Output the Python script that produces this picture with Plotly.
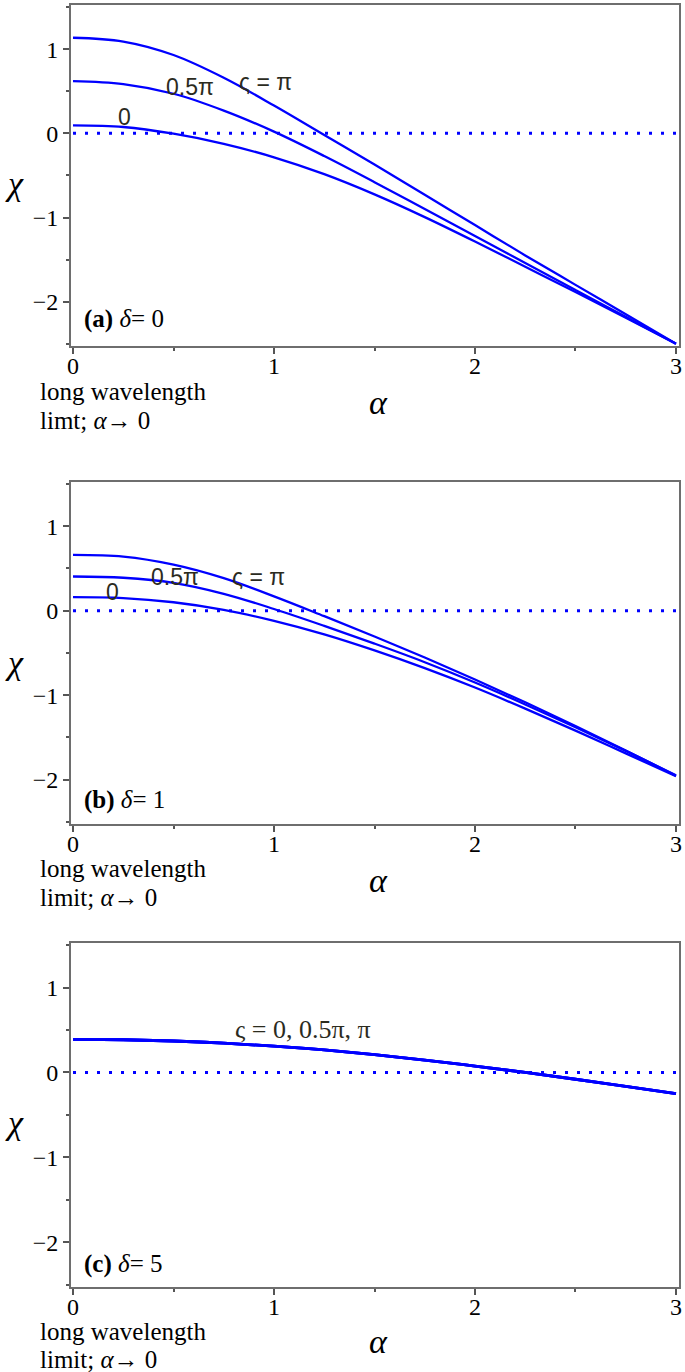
import plotly.graph_objects as go

# ---------------- data ----------------
alpha = [0.0, 0.25, 0.5, 0.75, 1.0, 1.25, 1.5, 1.75, 2.0, 2.25, 2.5, 2.75, 3.0]

# panel (a) delta = 0
chi_a_0    = [0.095, 0.075, -0.005, -0.125, -0.285, -0.485, -0.725, -0.995, -1.285, -1.585, -1.885, -2.19, -2.50]
chi_a_half = [0.62, 0.585, 0.47, 0.27, 0.02, -0.27, -0.58, -0.90, -1.22, -1.54, -1.86, -2.18, -2.50]
chi_a_pi   = [1.135, 1.09, 0.93, 0.66, 0.33, -0.02, -0.37, -0.73, -1.09, -1.45, -1.80, -2.15, -2.50]

# panel (b) delta = 1
chi_b_0    = [0.16, 0.15, 0.10, 0.01, -0.12, -0.28, -0.47, -0.68, -0.91, -1.16, -1.42, -1.69, -1.96]
chi_b_half = [0.405, 0.39, 0.33, 0.20, 0.02, -0.18, -0.39, -0.61, -0.85, -1.11, -1.38, -1.66, -1.95]
chi_b_pi   = [0.66, 0.64, 0.545, 0.385, 0.17, -0.065, -0.305, -0.555, -0.815, -1.085, -1.365, -1.655, -1.955]

# panel (c) delta = 5 (all three curves coincide)
chi_c = [0.39, 0.385, 0.37, 0.345, 0.31, 0.265, 0.21, 0.145, 0.075, 0.0, -0.08, -0.165, -0.25]

zero_x = [0.0, 3.0]
zero_y = [0.0, 0.0]

x_ticks = [0, 1, 2, 3]
y_ticks = [-2, -1, 0, 1]

# ---------------- layout helpers ----------------
W, H = 685, 1372
ML, MR = 71, 6
PW = W - ML - MR


def py(p):
    return 1 - p / H


def px(p):
    return (p - ML) / PW


panels = [(5, 346), (482, 824), (943, 1287)]  # top, bottom in pixels

BLUE = "rgb(0,0,255)"
SERIF = "Liberation Serif"
SANS = "Liberation Sans"
LBL = "#2b2b1e"

fig = go.Figure()

series = [
    [chi_a_0, chi_a_half, chi_a_pi],
    [chi_b_0, chi_b_half, chi_b_pi],
    [chi_c, chi_c, chi_c],
]

for i, curves in enumerate(series):
    xa = "x" if i == 0 else f"x{i+1}"
    ya = "y" if i == 0 else f"y{i+1}"
    fig.add_trace(go.Scatter(x=zero_x, y=zero_y, mode="lines", xaxis=xa, yaxis=ya,
                             line=dict(color=BLUE, width=3, dash="3px,9px"),
                             showlegend=False, hoverinfo="skip"))
    for c in curves:
        fig.add_trace(go.Scatter(x=alpha, y=c, mode="lines", xaxis=xa, yaxis=ya,
                                 line=dict(color=BLUE, width=2.3 if i < 2 else 2.8,
                                           shape="spline", smoothing=1.0),
                                 showlegend=False))

axis_common = dict(showline=True, mirror=True, linecolor="#6e6e6e", linewidth=2,
                   showgrid=False, zeroline=False, ticks="outside", ticklen=6,
                   tickwidth=1.5, tickcolor="#555555",
                   tickfont=dict(family=SERIF, size=24, color="black"))

layout = dict(width=W, height=H, margin=dict(l=ML, r=MR, t=0, b=0),
              plot_bgcolor="white", paper_bgcolor="white", showlegend=False)

for i, (top, bot) in enumerate(panels):
    xk = "xaxis" if i == 0 else f"xaxis{i+1}"
    yk = "yaxis" if i == 0 else f"yaxis{i+1}"
    anchor_x = "y" if i == 0 else f"y{i+1}"
    anchor_y = "x" if i == 0 else f"x{i+1}"
    layout[xk] = dict(axis_common, domain=[0, 1], anchor=anchor_x, range=[-0.01, 3.015],
                      tickvals=x_ticks, ticktext=[str(v) for v in x_ticks],
                      ticklabelstandoff=-9,
                      minor=dict(dtick=0.5, tick0=0, ticks="outside", ticklen=3,
                                 tickcolor="#555555", tickwidth=1.5))
    layout[yk] = dict(axis_common, domain=[py(bot), py(top)], anchor=anchor_y,
                      range=[-2.526, 1.524], tickvals=y_ticks,
                      ticktext=["\u22122", "\u22121", "0", "1"],
                      minor=dict(dtick=0.5, tick0=0, ticks="outside", ticklen=3,
                                 tickcolor="#555555", tickwidth=1.5))

fig.update_layout(**layout)

ann = []


def add(text, x, y, size, family=SERIF, xanchor="center", color="black"):
    ann.append(dict(text=text, x=px(x), y=py(y), xref="paper", yref="paper",
                    xanchor=xanchor, yanchor="middle", showarrow=False,
                    font=dict(family=family, size=size, color=color)))


panel_tags = ["<b>(a)</b> <i>δ</i>= 0", "<b>(b)</b> <i>δ</i>= 1", "<b>(c)</b> <i>δ</i>= 5"]
tag_y = [319, 800, 1264]
lw1_y = [391, 869, 1331]
lw2_y = [420, 897, 1359]
lw2_text = ["limt; <i>α</i>→ 0", "limit; <i>α</i>→ 0", "limit; <i>α</i>→ 0"]
chi_y = [184, 662, 1122]
alpha_y = [403, 880, 1341]

for i in range(3):
    add(panel_tags[i], 82, tag_y[i], 25, xanchor="left")
    add("long wavelength", 38, lw1_y[i], 25, xanchor="left")
    add(lw2_text[i], 38, lw2_y[i], 25, xanchor="left")
    add("<i>χ</i>", 14, chi_y[i], 34)
    add("<i>α</i>", 378, alpha_y[i], 34)

# curve labels
add("ς = π", 265, 82, 23, family=SANS, color=LBL)
add("0.5π", 190, 87, 23, family=SANS, color=LBL)
add("0", 124, 117, 23, family=SANS, color=LBL)
add("ς = π", 258, 577, 23, family=SANS, color=LBL)
add("0.5π", 175, 577, 23, family=SANS, color=LBL)
add("0", 112, 592, 23, family=SANS, color=LBL)
add("ς = 0, 0.5π, π", 303, 1029, 26, family=SERIF, color=LBL)

fig.update_layout(annotations=ann)

fig.write_html("out.html", config={"displayModeBar": False},
               post_script="document.body.style.margin='0px';")
